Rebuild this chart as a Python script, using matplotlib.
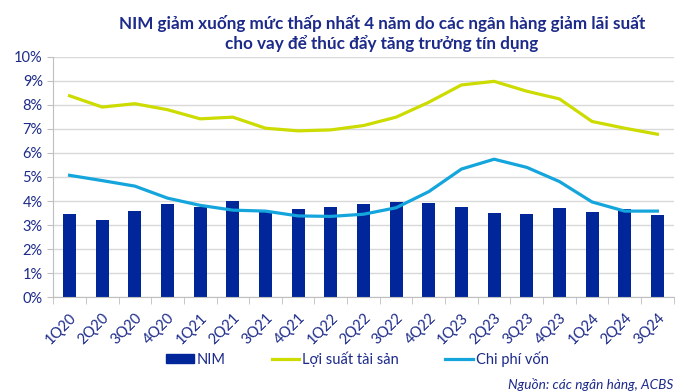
import matplotlib
matplotlib.use("Agg")
import matplotlib.pyplot as plt
from matplotlib.patches import Patch
from matplotlib.lines import Line2D
from matplotlib.ticker import FuncFormatter, FixedLocator
import numpy as np

# Dữ liệu
quy = ["1Q20", "2Q20", "3Q20", "4Q20", "1Q21", "2Q21", "3Q21", "4Q21", "1Q22", "2Q22",
       "3Q22", "4Q22", "1Q23", "2Q23", "3Q23", "4Q23", "1Q24", "2Q24", "3Q24"]
nim = [3.47, 3.20, 3.58, 3.86, 3.76, 4.01, 3.58, 3.68, 3.76, 3.87,
       3.96, 3.91, 3.76, 3.52, 3.44, 3.69, 3.55, 3.65, 3.40]
loi_suat = [8.38, 7.91, 8.05, 7.80, 7.42, 7.49, 7.03, 6.92, 6.96, 7.14,
            7.49, 8.11, 8.83, 8.98, 8.57, 8.25, 7.31, 7.03, 6.78]
chi_phi = [5.07, 4.85, 4.62, 4.12, 3.82, 3.62, 3.58, 3.38, 3.36, 3.45,
           3.72, 4.39, 5.33, 5.74, 5.40, 4.81, 3.96, 3.58, 3.58]

navy = "#00269a"
vang = "#cddc00"
xanh = "#14a5dc"
chu = "#1c2a8a"

plt.rcParams["font.family"] = ["Lato", "DejaVu Sans"]

fig = plt.figure(figsize=(6.91, 3.92), dpi=100)
ax = fig.add_axes([0.077, 0.242, 0.898, 0.613])

x = np.arange(len(quy))
ax.bar(x, nim, width=0.4, color=navy, zorder=2)
ax.plot(x, loi_suat, color=vang, lw=2.3, solid_joinstyle="round", zorder=3)
ax.plot(x, chi_phi, color=xanh, lw=2.3, solid_joinstyle="round", zorder=3)

ax.set_xlim(-0.5, len(quy) - 0.5)
ax.set_ylim(0, 10)
ax.set_yticks(range(0, 11))
ax.yaxis.set_major_formatter(FuncFormatter(lambda v, p: f"{int(v)}%"))
ax.grid(axis="y", color="#d9d9d9", lw=1, zorder=0)

ax.set_xticks(x)
ax.set_xticklabels(quy, rotation=45, ha="right", rotation_mode="anchor")
ax.tick_params(axis="x", length=0, pad=10, labelcolor=chu, labelsize=10.5)
ax.xaxis.set_minor_locator(FixedLocator(np.arange(-0.5, len(quy), 1)))
ax.tick_params(axis="x", which="minor", length=5, color="#bfbfbf")
ax.tick_params(axis="y", length=4, color="#bfbfbf", labelcolor=chu, labelsize=10.5)

for s in ["top", "right"]:
    ax.spines[s].set_visible(False)
ax.spines["left"].set_color("#bfbfbf")
ax.spines["bottom"].set_color("#bfbfbf")

fig.text(0.553, 0.941, "NIM giảm xuống mức thấp nhất 4 năm do các ngân hàng giảm lãi suất",
         ha="center", va="center", fontsize=12.3, fontweight="bold", color=chu)
fig.text(0.553, 0.888, "cho vay để thúc đẩy tăng trưởng tín dụng",
         ha="center", va="center", fontsize=12.3, fontweight="bold", color=chu)

handles = [Patch(color=navy), Line2D([0], [0], color=vang, lw=2.3),
           Line2D([0], [0], color=xanh, lw=2.3)]
leg = fig.legend(handles, ["NIM", "Lợi suất tài sản", "Chi phí vốn"], ncol=3,
                 loc="center", bbox_to_anchor=(0.517, 0.084), frameon=False,
                 fontsize=10.5, handlelength=1.9, handleheight=0.55,
                 handletextpad=0.2, columnspacing=3.15)
for t in leg.get_texts():
    t.set_color(chu)

fig.text(0.974, 0.018, "Nguồn: các ngân hàng, ACBS", ha="right", va="center",
         fontsize=9.8, style="italic", color=chu)

fig.savefig("out.png", dpi=100)
